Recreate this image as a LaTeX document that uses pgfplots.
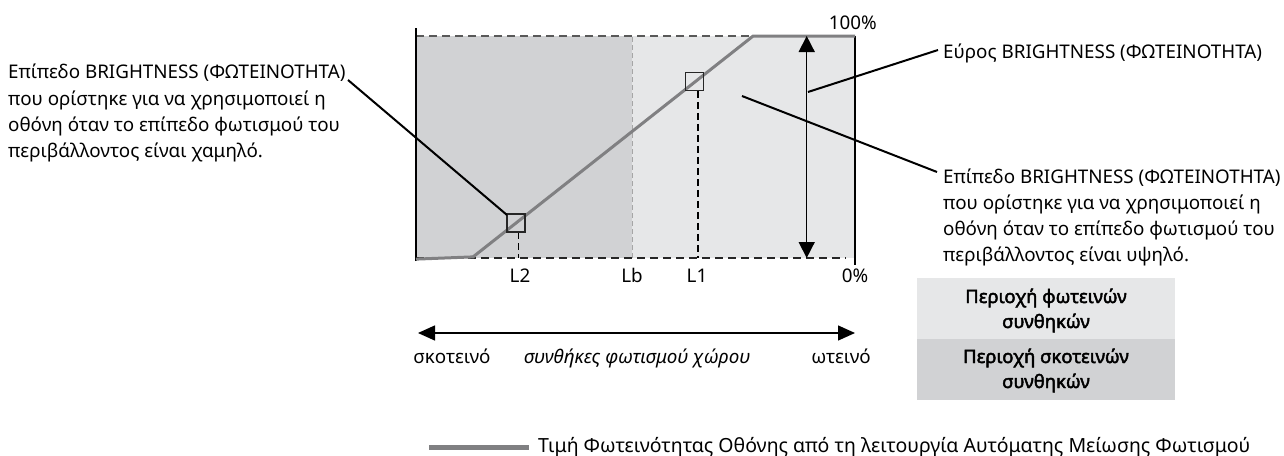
\documentclass[border=0pt]{standalone}
\usepackage{pgfplots}
\pgfplotsset{compat=1.18}
\usepackage{fontspec}
\setmainfont{Noto Sans}
\newfontfamily\boxfont[FakeBold=2.5]{Noto Sans}
\usetikzlibrary{arrows.meta}
\definecolor{darkreg}{RGB}{209,210,212}
\definecolor{lightreg}{RGB}{230,231,232}
\definecolor{lum}{RGB}{128,128,130}
\begin{document}
\begin{tikzpicture}
\path[use as bounding box] (0,0) rectangle (1284bp,-456bp);
\begin{axis}[at={(416bp,-258bp)}, anchor=south west, scale only axis,
  width=439bp, height=222bp, xmin=0, xmax=100, ymin=0, ymax=100,
  hide axis, clip=false]
\addplot[draw=none, fill=darkreg] coordinates {(0,0) (49.2,0) (49.2,100) (0,100)} -- cycle;
\addplot[draw=none, fill=lightreg] coordinates {(49.2,0) (100,0) (100,100) (49.2,100)} -- cycle;
\addplot[black!35, line width=0.8bp, dash pattern=on 5bp off 3bp] coordinates {(49.2,0) (49.2,100)};
\addplot[black!65, line width=1.5bp, dash pattern=on 8bp off 5bp] coordinates {(0,100) (100,100)};
\addplot[black!85, line width=1.5bp, dash pattern=on 8bp off 5bp] coordinates {(0,0) (98,0)};
\addplot[black, line width=1.5bp] coordinates {(0,-1.4) (0,103.6)};
\addplot[black, line width=1.5bp] coordinates {(100,100) (100,-3.2)};
\addplot[black, line width=1.5bp, dash pattern=on 7bp off 4bp] coordinates {(23.4,11.7) (23.4,0)};
\addplot[black, line width=1.5bp, dash pattern=on 7bp off 4bp] coordinates {(64.2,75.3) (64.2,0)};
\addplot[lum, line width=3bp] coordinates {(0,-0.5) (13,0.5) (76.8,100) (100,100)};
\addplot[only marks, mark=square, mark size=9bp, mark options={draw=black!85, line width=1.3bp, fill=none}] coordinates {(22.8,15.8) (63.5,79.4)};
\draw[black, line width=1.5bp, {Triangle[length=16bp,width=16bp]}-{Triangle[length=16bp,width=16bp]}] (axis cs:89,100) -- (axis cs:89,0);
\end{axis}
\begin{scope}[x=1bp, y=-1bp, every node/.style={inner sep=0pt, font=\fontsize{18.8bp}{23bp}\selectfont}]
% annotation lines
\draw[line width=2bp] (348,80) -- (507,215);
\draw[line width=2bp] (808,92) -- (938,50);
\draw[line width=2bp] (742,96) -- (937,172);
% left block
\node[anchor=base west] at (8,78) {Επίπεδο BRIGHTNESS (ΦΩΤΕΙΝΟΤΗΤΑ)};
\node[anchor=base west] at (8,105) {που ορίστηκε για να χρησιμοποιεί η};
\node[anchor=base west] at (8,131) {οθόνη όταν το επίπεδο φωτισμού του};
\node[anchor=base west] at (8,157) {περιβάλλοντος είναι χαμηλό.};
% right
\node[anchor=base west] at (943,58) {Εύρος BRIGHTNESS (ΦΩΤΕΙΝΟΤΗΤΑ)};
\node[anchor=base west] at (943,183) {Επίπεδο BRIGHTNESS (ΦΩΤΕΙΝΟΤΗΤΑ)};
\node[anchor=base west] at (943,209) {που ορίστηκε για να χρησιμοποιεί η};
\node[anchor=base west] at (943,235) {οθόνη όταν το επίπεδο φωτισμού του};
\node[anchor=base west] at (943,261) {περιβάλλοντος είναι υψηλό.};
% tick-like labels
\node[anchor=base] at (520,282) {L2};
\node[anchor=base] at (632,282) {Lb};
\node[anchor=base] at (697,282) {L1};
\node[anchor=base] at (855,282) {0\%};
\node[anchor=base east] at (877,29) {100\%};
% bottom arrow
\draw[line width=1.5bp, {Triangle[length=17bp,width=15bp]}-{Triangle[length=17bp,width=15bp]}] (418,333) -- (855,333);
\node[anchor=base] at (452,363) {σκοτεινό};
\node[anchor=base] at (637,363) {\itshape συνθήκες φωτισμού χώρου};
\node[anchor=base] at (841,363) {ωτεινό};
% region boxes
\fill[lightreg] (917,278) rectangle (1175,339);
\fill[darkreg] (917,339) rectangle (1175,400);
\node[anchor=base, font=\fontsize{18.5bp}{22bp}\boxfont] at (1046,303) {Περιοχή φωτεινών};
\node[anchor=base, font=\fontsize{18.5bp}{22bp}\boxfont] at (1046,328) {συνθηκών};
\node[anchor=base, font=\fontsize{18.5bp}{22bp}\boxfont] at (1046,363) {Περιοχή σκοτεινών};
\node[anchor=base, font=\fontsize{18.5bp}{22bp}\boxfont] at (1046,388) {συνθηκών};
% legend
\draw[lum, line width=5bp] (429,447) -- (529,447);
\node[anchor=base west, font=\fontsize{19.5bp}{23bp}\selectfont] at (538,452) {Τιμή Φωτεινότητας Οθόνης από τη λειτουργία Αυτόματης Μείωσης Φωτισμού};
\end{scope}
\end{tikzpicture}
\end{document}
